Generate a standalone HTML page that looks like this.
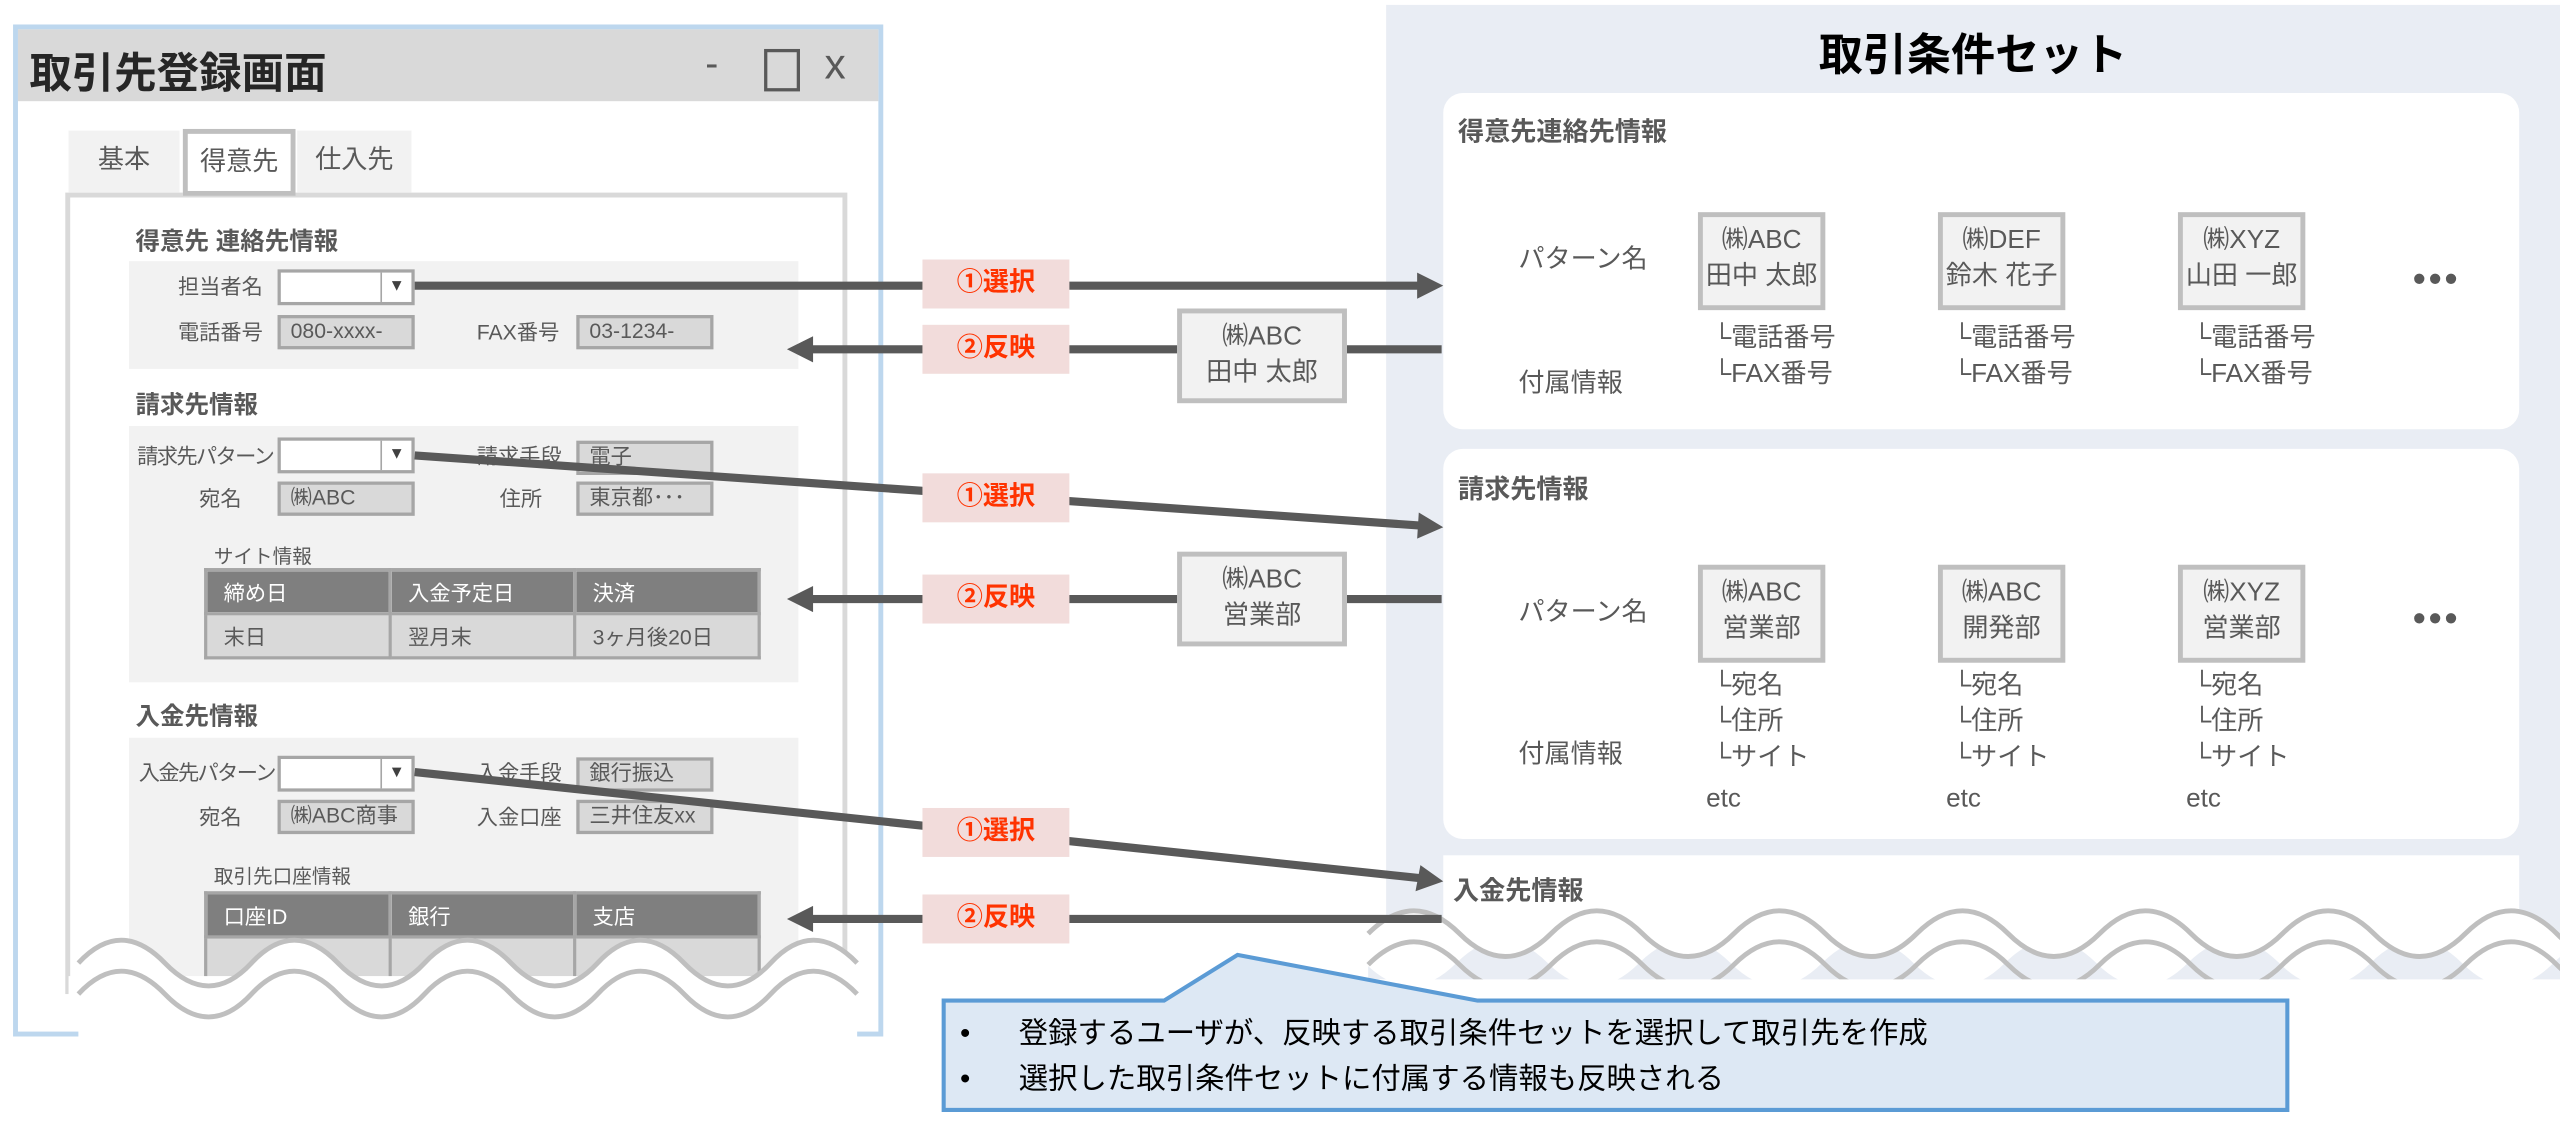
<!DOCTYPE html>
<html><head><meta charset="utf-8"><style>
html,body{margin:0;padding:0;background:#fff;}
body{width:2560px;height:1123px;overflow:hidden;position:relative;}
#s{position:absolute;left:0;top:0;width:1568px;height:688px;transform:scale(1.63265,1.63227);transform-origin:0 0;font-family:"Liberation Sans","Noto Sans CJK JP",sans-serif;color:#595959;}
.a{position:absolute;white-space:nowrap;}
.t{font-size:13px;line-height:1;}
.f{position:absolute;box-sizing:border-box;border:2px solid #a6a6a6;background:#d9d9d9;font-size:13px;line-height:16px;padding-left:6px;color:#595959;}
.dd{position:absolute;box-sizing:border-box;border:2px solid #a6a6a6;background:#fff;}
.dd::after{content:"▼";position:absolute;right:0;top:0;width:18px;height:100%;border-left:1px solid #a6a6a6;font-size:10px;line-height:18px;text-align:center;color:#404040;}
.h{font-weight:bold;font-size:15px;}
.band{position:absolute;background:#f2f2f2;}
.tb{position:absolute;border-collapse:collapse;font-size:13px;table-layout:fixed;width:341px;}
.tb td{border:2px solid #a6a6a6;padding:0 0 0 10px;height:25px;width:101px;overflow:hidden;white-space:nowrap;}
.tb tr.hd td{background:#7f7f7f;color:#fff;}
.tb tr.bd td{background:#d9d9d9;}
.card{position:absolute;background:#fff;border-radius:12px;}
.pb{position:absolute;box-sizing:border-box;border:3px solid #bfbfbf;background:#f2f2f2;text-align:center;font-size:16px;line-height:22px;padding-top:4px;color:#595959;}
.lab{position:absolute;background:#f2dcdb;color:#ff3300;font-weight:bold;font-size:16px;text-align:center;line-height:30px;width:90px;height:30px;}
.r16{font-size:16px;line-height:22px;}
</style></head><body><div id="s">
<!-- right panel -->
<div class="a" style="left:849px;top:3px;width:719px;height:598px;background:#e9edf4;"></div>
<div class="a" style="left:849px;top:12px;width:719px;text-align:center;font-size:27px;font-weight:bold;color:#000;">取引条件セット</div>
<div class="card" style="left:884px;top:57px;width:659px;height:206px;"></div>
<div class="a h" style="left:893px;top:67px;font-size:16px;">得意先連絡先情報</div>
<div class="a r16" style="left:930px;top:149px;">パターン名</div>
<div class="a r16" style="left:930px;top:225px;">付属情報</div>
<div class="pb" style="left:1040px;top:130px;width:78px;height:60px;">㈱ABC<br>田中 太郎</div>
<div class="pb" style="left:1187px;top:130px;width:78px;height:60px;">㈱DEF<br>鈴木 花子</div>
<div class="pb" style="left:1334px;top:130px;width:78px;height:60px;">㈱XYZ<br>山田 一郎</div>
<div class="a r16" style="left:1049px;top:197px;">└電話番号<br>└FAX番号</div>
<div class="a r16" style="left:1196px;top:197px;">└電話番号<br>└FAX番号</div>
<div class="a r16" style="left:1343px;top:197px;">└電話番号<br>└FAX番号</div>
<div class="a" style="left:1478px;top:158px;font-size:22px;font-weight:bold;letter-spacing:2px;">•••</div>

<div class="card" style="left:884px;top:275px;width:659px;height:239px;"></div>
<div class="a h" style="left:893px;top:286px;font-size:16px;">請求先情報</div>
<div class="a r16" style="left:930px;top:365px;">パターン名</div>
<div class="a r16" style="left:930px;top:452px;">付属情報</div>
<div class="pb" style="left:1040px;top:346px;width:78px;height:60px;">㈱ABC<br>営業部</div>
<div class="pb" style="left:1187px;top:346px;width:78px;height:60px;">㈱ABC<br>開発部</div>
<div class="pb" style="left:1334px;top:346px;width:78px;height:60px;">㈱XYZ<br>営業部</div>
<div class="a r16" style="left:1049px;top:410px;">└宛名<br>└住所<br>└サイト</div>
<div class="a r16" style="left:1045px;top:479px;">etc</div>
<div class="a r16" style="left:1196px;top:410px;">└宛名<br>└住所<br>└サイト</div>
<div class="a r16" style="left:1192px;top:479px;">etc</div>
<div class="a r16" style="left:1343px;top:410px;">└宛名<br>└住所<br>└サイト</div>
<div class="a r16" style="left:1339px;top:479px;">etc</div>
<div class="a" style="left:1478px;top:366px;font-size:22px;font-weight:bold;letter-spacing:2px;">•••</div>

<div class="a" style="left:884px;top:524px;width:659px;height:60px;background:#fff;"></div>
<div class="a h" style="left:890px;top:532px;font-size:16px;">入金先情報</div>

<!-- left window -->
<div class="a" style="left:8px;top:15px;width:527px;height:614px;border:3px solid #bdd7ee;background:#fff;"></div>
<div class="a" style="left:11px;top:18px;width:527px;height:44px;background:#d9d9d9;"></div>
<div class="a" style="left:18px;top:25px;font-size:26px;font-weight:bold;color:#262626;">取引先登録画面</div>
<div class="a" style="left:432px;top:26px;font-size:24px;">-</div>
<div class="a" style="left:468px;top:30px;width:18px;height:22px;border:2px solid #595959;"></div>
<div class="a" style="left:505px;top:24px;font-size:26px;">x</div>
<div class="a" style="left:40px;top:118px;width:473px;height:485px;border:3px solid #d9d9d9;"></div>
<div class="a" style="left:42px;top:80px;width:68px;height:38px;background:#f2f2f2;font-size:16px;line-height:38px;text-align:center;">基本</div>
<div class="a" style="left:112px;top:79px;width:63px;height:35px;background:#fff;border:3px solid #bfbfbf;font-size:16px;line-height:36px;text-align:center;">得意先</div>
<div class="a" style="left:182px;top:80px;width:70px;height:38px;background:#f2f2f2;font-size:16px;line-height:38px;text-align:center;">仕入先</div>

<div class="a h" style="left:83px;top:137px;">得意先 連絡先情報</div>
<div class="band" style="left:79px;top:160px;width:410px;height:66px;"></div>
<div class="a t" style="left:109px;top:169px;">担当者名</div>
<div class="dd" style="left:170px;top:165px;width:84px;height:22px;"></div>
<div class="a t" style="left:109px;top:197px;">電話番号</div>
<div class="f" style="left:170px;top:193px;width:84px;height:21px;">080-xxxx-</div>
<div class="a t" style="left:292px;top:197px;">FAX番号</div>
<div class="f" style="left:353px;top:193px;width:84px;height:21px;">03-1234-</div>

<div class="a h" style="left:83px;top:237px;">請求先情報</div>
<div class="band" style="left:79px;top:261px;width:410px;height:157px;"></div>
<div class="a t" style="left:84px;top:273px;letter-spacing:-1px;">請求先パターン</div>
<div class="dd" style="left:170px;top:268px;width:84px;height:22px;"></div>
<div class="a t" style="left:292px;top:273px;">請求手段</div>
<div class="f" style="left:353px;top:270px;width:84px;height:21px;">電子</div>
<div class="a t" style="left:122px;top:299px;">宛名</div>
<div class="f" style="left:170px;top:295px;width:84px;height:21px;">㈱ABC</div>
<div class="a t" style="left:306px;top:299px;">住所</div>
<div class="f" style="left:353px;top:295px;width:84px;height:21px;">東京都･･･</div>
<div class="a" style="left:131px;top:332px;font-size:12px;">サイト情報</div>
<table class="tb" style="left:125px;top:348px;"><tr class="hd"><td>締め日</td><td>入金予定日</td><td>決済</td></tr><tr class="bd"><td>末日</td><td>翌月末</td><td>3ヶ月後20日</td></tr></table>

<div class="a h" style="left:83px;top:428px;">入金先情報</div>
<div class="band" style="left:79px;top:452px;width:410px;height:150px;"></div>
<div class="a t" style="left:85px;top:467px;letter-spacing:-1px;">入金先パターン</div>
<div class="dd" style="left:170px;top:463px;width:84px;height:22px;"></div>
<div class="a t" style="left:292px;top:467px;">入金手段</div>
<div class="f" style="left:353px;top:464px;width:84px;height:21px;">銀行振込</div>
<div class="a t" style="left:122px;top:494px;">宛名</div>
<div class="f" style="left:170px;top:490px;width:84px;height:21px;">㈱ABC商事</div>
<div class="a t" style="left:292px;top:494px;">入金口座</div>
<div class="f" style="left:353px;top:490px;width:84px;height:21px;">三井住友xx</div>
<div class="a" style="left:131px;top:528px;font-size:12px;">取引先口座情報</div>
<table class="tb" style="left:125px;top:546px;"><tr class="hd"><td>口座ID</td><td>銀行</td><td>支店</td></tr><tr class="bd"><td>&nbsp;</td><td></td><td></td></tr></table>

<svg class="a" style="left:0;top:0" width="1568" height="688" viewBox="0 0 1568 688">
<!-- left wave -->
<path d="M48,590 q26,-28 53,0 t53,0 t53,0 t53,0 t53,0 t53,0 t53,0 t53,0 t53,0 L525,640 L48,640Z" fill="#fff"/>
<rect x="42" y="598" width="490" height="28" fill="#fff"/>
<path d="M48,590 q26,-28 53,0 t53,0 t53,0 t53,0 t53,0 t53,0 t53,0 t53,0 t53,0" fill="none" stroke="#bfbfbf" stroke-width="3"/>
<path d="M48,609 q26,-28 53,0 t53,0 t53,0 t53,0 t53,0 t53,0 t53,0 t53,0 t53,0" fill="none" stroke="#bfbfbf" stroke-width="3"/>
<!-- right wave -->
<path d="M838,572 q28,-28 56,0 t56,0 t56,0 t56,0 t56,0 t56,0 t56,0 t56,0 t56,0 t56,0 t56,0 t56,0 t56,0 t56,0 L1620,600 L838,600Z" fill="#e9edf4"/>
<path d="M838,572 q28,-28 56,0 t56,0 t56,0 t56,0 t56,0 t56,0 t56,0 t56,0 t56,0 t56,0 t56,0 t56,0 t56,0 t56,0 L1620,590 q-28,-28 -56,0 t-56,0 t-56,0 t-56,0 t-56,0 t-56,0 t-56,0 t-56,0 t-56,0 t-56,0 t-56,0 t-56,0 t-56,0 t-56,0 Z" fill="#fff"/>
<path d="M838,572 q28,-28 56,0 t56,0 t56,0 t56,0 t56,0 t56,0 t56,0 t56,0 t56,0 t56,0 t56,0 t56,0 t56,0 t56,0" fill="none" stroke="#bfbfbf" stroke-width="3"/>
<path d="M838,591 q28,-28 56,0 t56,0 t56,0 t56,0 t56,0 t56,0 t56,0 t56,0 t56,0 t56,0 t56,0 t56,0 t56,0 t56,0" fill="none" stroke="#bfbfbf" stroke-width="3"/>
<rect x="838" y="600" width="730" height="20" fill="#fff"/>
<!-- arrows -->
<g stroke="#595959" stroke-width="5" fill="none">
<line x1="254" y1="175" x2="870" y2="175"/>
<line x1="883" y1="214" x2="495" y2="214"/>
<line x1="254" y1="279" x2="870" y2="322"/>
<line x1="883" y1="367" x2="495" y2="367"/>
<line x1="254" y1="473" x2="870" y2="538"/>
<line x1="883" y1="563" x2="495" y2="563"/>
</g>
<g fill="#595959">
<polygon points="884,175 868,167 868,183"/>
<polygon points="482,214 498,206 498,222"/>
<polygon points="884,323 869,314 868,330"/>
<polygon points="482,367 498,359 498,375"/>
<polygon points="884,540 870,530 867,546"/>
<polygon points="482,563 498,555 498,571"/>
</g>
<!-- callout -->
<path d="M578,613 L713,613 L758,585 L905,613 L1401,613 L1401,680 L578,680 Z" fill="#dde8f4" stroke="#5b9bd5" stroke-width="2.5"/>
</svg>
<div class="lab" style="left:565px;top:159px;">①選択</div>
<div class="lab" style="left:565px;top:199px;">②反映</div>
<div class="lab" style="left:565px;top:290px;">①選択</div>
<div class="lab" style="left:565px;top:352px;">②反映</div>
<div class="lab" style="left:565px;top:495px;">①選択</div>
<div class="lab" style="left:565px;top:548px;">②反映</div>
<div class="pb" style="left:721px;top:189px;width:104px;height:58px;">㈱ABC<br>田中 太郎</div>
<div class="pb" style="left:721px;top:338px;width:104px;height:58px;">㈱ABC<br>営業部</div>
<div class="a" style="left:588px;top:619px;font-size:18px;line-height:28px;color:#000;">•<br>•</div>
<div class="a" style="left:624px;top:619px;font-size:18px;line-height:28px;color:#000;">登録するユーザが、反映する取引条件セットを選択して取引先を作成<br>選択した取引条件セットに付属する情報も反映される</div>
</div></body></html>
